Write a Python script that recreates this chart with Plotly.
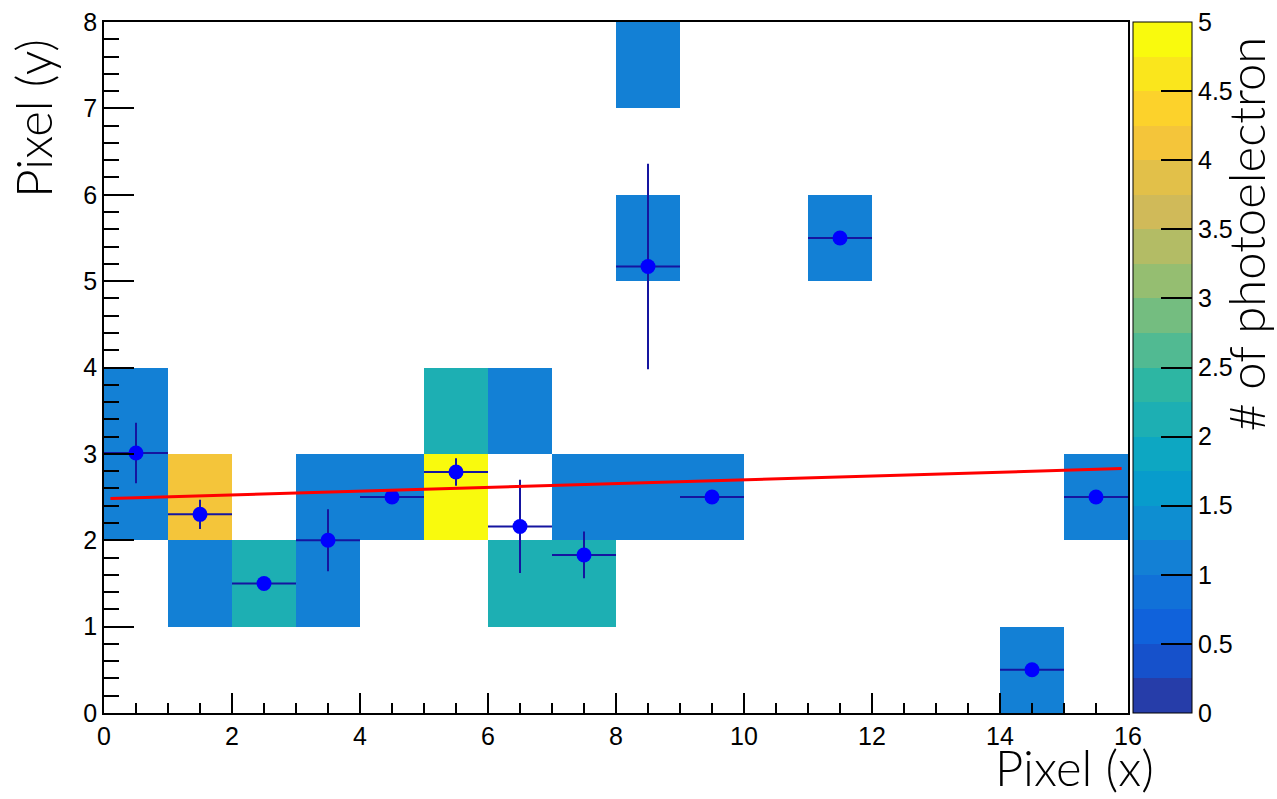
import plotly.graph_objects as go
import numpy as np

# ---------------- data ----------------
x_edges = list(range(0, 17))
y_edges = list(range(0, 9))
# cell contents (row = y bin 0..7, col = x bin 0..15); None = empty
z_rows = [
    [None]*14 + [1, None],                                                           # y 0-1
    [None, 1, 2, 1, None, None, 2, 2, None, None, None, None, None, None, None, None], # y 1-2
    [1, 4, None, 1, 1, 5, None, 1, 1, 1, None, None, None, None, None, 1],          # y 2-3
    [1, None, None, None, None, 2, 1, None, None, None, None, None, None, None, None, None],  # y 3-4
    [None]*16,                                                                       # y 4-5
    [None]*8 + [1, None, None, 1, None, None, None, None],                            # y 5-6
    [None]*16,                                                                       # y 6-7
    [None]*8 + [1] + [None]*7,                                                       # y 7-8
]
pt_x = [0.5, 1.5, 2.5, 3.5, 4.5, 5.5, 6.5, 7.5, 8.5, 9.5, 11.5, 14.5, 15.5]
pt_y = [3.01, 2.30, 1.50, 2.00, 2.50, 2.79, 2.16, 1.83, 5.17, 2.50, 5.50, 0.50, 2.50]
pt_ey = [0.35, 0.17, 0.0, 0.36, 0.0, 0.16, 0.54, 0.27, 1.19, 0.0, 0.0, 0.0, 0.0]
pt_ex = [0.5]*13
fit_intercept = 2.48
fit_slope = 0.022
fit_x = [0.1, 15.9]

x_ticks = [0, 2, 4, 6, 8, 10, 12, 14, 16]
y_ticks = [0, 1, 2, 3, 4, 5, 6, 7, 8]
cb_ticks = [0, 0.5, 1, 1.5, 2, 2.5, 3, 3.5, 4, 4.5, 5]

# ---------------- kBird palette, 20 contour bands ----------------
stops = [0.0, 0.125, 0.25, 0.375, 0.5, 0.625, 0.75, 0.875, 1.0]
red = [0.2082, 0.0592, 0.0780, 0.0232, 0.1802, 0.5301, 0.8186, 0.9956, 0.9764]
green = [0.1664, 0.3599, 0.5041, 0.6419, 0.7178, 0.7492, 0.7328, 0.7862, 0.9832]
blue = [0.5293, 0.8684, 0.8385, 0.7914, 0.6425, 0.4662, 0.3499, 0.1968, 0.0539]
nb = 20
colorscale = []
for i in range(nb):
    f = min((i + 0.99) / nb, 1.0)
    r = np.interp(f, stops, red); g = np.interp(f, stops, green); b = np.interp(f, stops, blue)
    c = f"rgb({int(r*255)},{int(g*255)},{int(b*255)})"
    lo = i / nb
    hi = (i + 1) / nb - 1e-6 if i < nb - 1 else 1.0
    colorscale.append([lo, c])
    colorscale.append([hi, c])

fig = go.Figure()
fig.add_trace(go.Heatmap(
    x=x_edges, y=y_edges, z=z_rows, zmin=0, zmax=5,
    colorscale=colorscale, hoverongaps=False,
    colorbar=dict(
        x=1.0049, xanchor="left", y=0.5, yanchor="middle", len=1.0, lenmode="fraction",
        thickness=59, thicknessmode="pixels",
        outlinecolor="black", outlinewidth=1,
        tickvals=cb_ticks, ticktext=[f"{v:g}" for v in cb_ticks],
        ticks="inside", ticklen=31, tickcolor="black", tickwidth=1.5,
        tickfont=dict(family="Liberation Sans", size=25, color="black"),
        xpad=0, ypad=0,
    ),
))

fig.add_trace(go.Scatter(
    x=pt_x, y=pt_y, mode="markers",
    marker=dict(color="#0000FF", size=15),
    error_x=dict(type="data", array=pt_ex, visible=True, color="#1515A0", thickness=2, width=0),
    error_y=dict(type="data", array=pt_ey, visible=True, color="#1515A0", thickness=2, width=0),
    showlegend=False,
))

fit_y = [fit_intercept + fit_slope * v for v in fit_x]
fig.add_trace(go.Scatter(x=fit_x, y=fit_y, mode="lines",
                         line=dict(color="#FF0000", width=3), showlegend=False))

axis_common = dict(showgrid=False, zeroline=False, showline=True, linecolor="black",
                   linewidth=1.5, mirror=True, ticks="inside", tickcolor="black", tickwidth=1.5,
                   automargin=False,
                   tickfont=dict(family="Liberation Sans", size=25, color="black"))
fig.update_xaxes(range=[0, 16], tickvals=x_ticks, ticklen=20,
                 minor=dict(dtick=0.5, tick0=0, ticks="inside", ticklen=10, tickcolor="black", tickwidth=1.5),
                 **axis_common)
fig.update_yaxes(range=[0, 8], tickvals=y_ticks, ticklen=30,
                 minor=dict(dtick=0.2, tick0=0, ticks="inside", ticklen=15, tickcolor="black", tickwidth=1.5),
                 **axis_common)

title_font = dict(family="Lato", size=49, color="black", weight=300)
fig.add_annotation(text="Pixel (x)", xref="paper", yref="paper", x=1.0273, y=-0.033,
                   xanchor="right", yanchor="top", showarrow=False, font=title_font)
fig.add_annotation(text="Pixel (y)", xref="paper", yref="paper", x=-0.039, y=0.978,
                   xanchor="right", yanchor="top", textangle=-90, showarrow=False, font=title_font)
fig.add_annotation(text="# of photoelectron", xref="paper", yref="paper", x=1.1455, y=0.9826,
                   xanchor="right", yanchor="top", textangle=-90, showarrow=False, font=title_font)

fig.update_layout(
    width=1277, height=799,
    margin=dict(l=104, r=149, t=22, b=86, autoexpand=False),
    plot_bgcolor="white", paper_bgcolor="white",
    showlegend=False,
)
fig.write_html("out.html", config={"displayModeBar": False},
               post_script="document.body.style.margin='0';document.body.style.padding='0';")
